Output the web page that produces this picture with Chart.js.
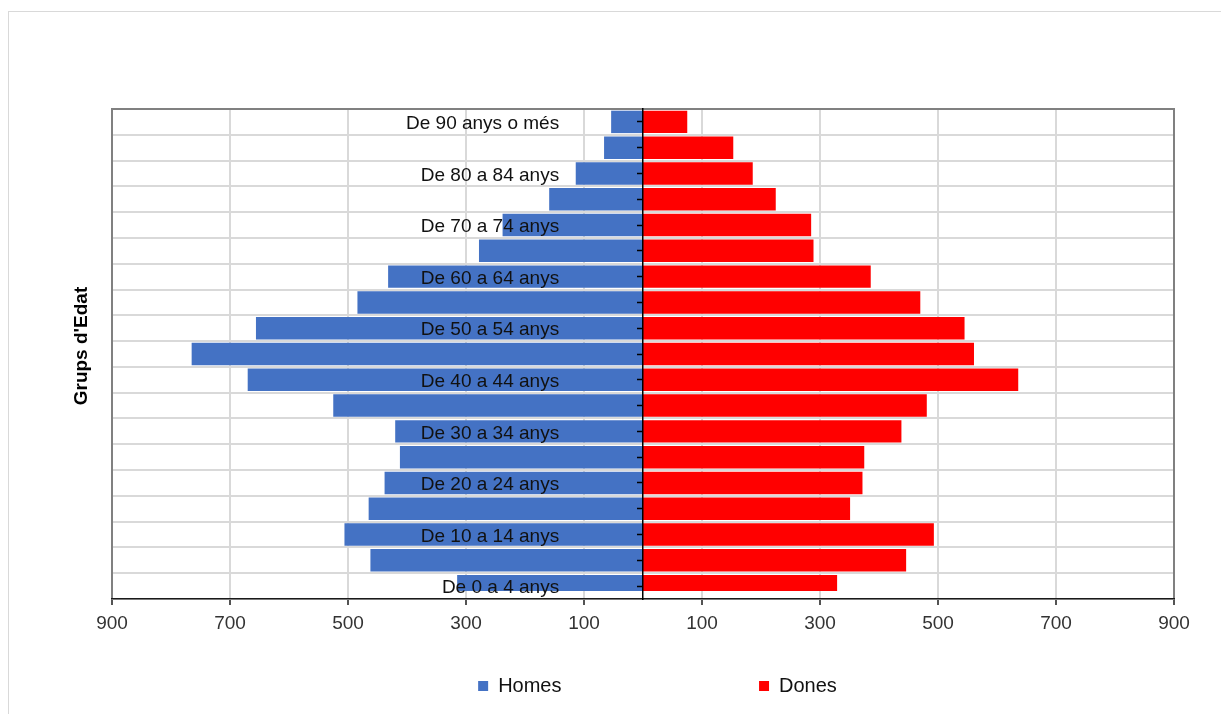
<!DOCTYPE html>
<html lang="ca">
<head>
<meta charset="utf-8">
<title>Piràmide de població</title>
<script src="https://cdn.jsdelivr.net/npm/chart.js@4.4.1/dist/chart.umd.min.js"></script>
<style>
  html, body { margin: 0; padding: 0; background: #fff; overflow: hidden; }
  #frame { position: absolute; left: 8px; top: 11px; width: 3000px; height: 3000px;
           border: 1px solid #d9d9d9; box-sizing: border-box; }
  #wrap { position: absolute; left: 0; top: 0; width: 1221px; height: 714px; }
</style>
</head>
<body>
<div id="frame"></div>
<div id="wrap"><canvas id="pyramid"></canvas></div>
<script>
// Age groups, oldest first (top of the pyramid)
const ageGroups = [
  'De 90 anys o més', 'De 85 a 89 anys', 'De 80 a 84 anys', 'De 75 a 79 anys',
  'De 70 a 74 anys', 'De 65 a 69 anys', 'De 60 a 64 anys', 'De 55 a 59 anys',
  'De 50 a 54 anys', 'De 45 a 49 anys', 'De 40 a 44 anys', 'De 35 a 39 anys',
  'De 30 a 34 anys', 'De 25 a 29 anys', 'De 20 a 24 anys', 'De 15 a 19 anys',
  'De 10 a 14 anys', 'De 5 a 9 anys', 'De 0 a 4 anys'
];

// Population per age group
const homes = [54, 66, 114, 159, 238, 278, 432, 484, 656, 765, 670, 525, 420, 412, 438, 465, 506, 462, 315];
const dones = [75, 153, 186, 225, 285, 289, 386, 470, 545, 561, 636, 481, 438, 375, 372, 351, 493, 446, 329];

// Horizontal axis ticks (men drawn to the left as negative values)
const xTickValues = [-900, -700, -500, -300, -100, 100, 300, 500, 700, 900];

const seriesNames = ['Homes', 'Dones'];
const seriesColors = ['#4472C4', '#FF0000'];

Chart.defaults.font.family = "'Liberation Sans', 'DejaVu Sans', Arial, sans-serif";
Chart.defaults.font.size = 19;

// Left, top and right edges of the plot frame; lifts the axis title slightly
const plotFrame = {
  id: 'plotFrame',
  afterLayout(chart) {
    const s = chart.scales.y;
    s.top -= 8;
    s.bottom -= 8;
  },
  beforeDatasetsDraw(chart) {
    const { ctx, chartArea: a } = chart;
    ctx.save();
    ctx.strokeStyle = '#808080';
    ctx.lineWidth = 2;
    ctx.beginPath();
    ctx.moveTo(a.left, a.bottom);
    ctx.lineTo(a.left, a.top);
    ctx.lineTo(a.right, a.top);
    ctx.lineTo(a.right, a.bottom);
    ctx.stroke();
    ctx.restore();
  }
};

const legendBlank = (text) => ({
  text, fillStyle: 'rgba(0,0,0,0)', strokeStyle: 'rgba(0,0,0,0)',
  lineWidth: 0, hidden: false, fontColor: 'rgba(0,0,0,0)'
});

new Chart(document.getElementById('pyramid'), {
  type: 'bar',
  data: {
    labels: ageGroups,
    datasets: [
      {
        label: seriesNames[0],
        data: homes.map(v => -v),
        backgroundColor: seriesColors[0],
        borderWidth: 0,
        categoryPercentage: 1,
        barPercentage: 0.87
      },
      {
        label: seriesNames[1],
        data: dones,
        backgroundColor: seriesColors[1],
        borderWidth: 0,
        categoryPercentage: 1,
        barPercentage: 0.87
      }
    ]
  },
  options: {
    indexAxis: 'y',
    responsive: true,
    maintainAspectRatio: false,
    animation: false,
    layout: { padding: { left: 65, right: 47, top: 109, bottom: 8 } },
    plugins: {
      tooltip: { enabled: false },
      legend: {
        position: 'bottom',
        onClick: () => {},
        labels: {
          boxWidth: 10,
          boxHeight: 10,
          padding: 36,
          color: '#111',
          font: { size: 20 },
          generateLabels(chart) {
            const ds = chart.data.datasets;
            const item = (i) => ({
              text: ds[i].label,
              fillStyle: ds[i].backgroundColor,
              strokeStyle: ds[i].backgroundColor,
              lineWidth: 0,
              fontColor: '#111',
              hidden: !chart.isDatasetVisible(i),
              datasetIndex: i
            });
            return [
              legendBlank('\u2003'),
              item(0),
              legendBlank('\u2003\u2003\u2003\u2003\u2003\u00a0'),
              item(1)
            ];
          }
        }
      }
    },
    scales: {
      x: {
        type: 'linear',
        min: -900,
        max: 900,
        stacked: true,
        afterFit: (scale) => { scale.height = 41; },
        afterBuildTicks: (scale) => { scale.ticks = xTickValues.map(v => ({ value: v })); },
        ticks: {
          autoSkip: false,
          maxRotation: 0,
          padding: 7,
          color: '#333',
          callback: (v) => String(Math.abs(v))
        },
        grid: { color: '#d9d9d9', lineWidth: 2, tickColor: '#1a1a1a', tickLength: 6, tickWidth: 1.5 },
        border: { color: '#1a1a1a', width: 1.5, z: 1 }
      },
      y: {
        type: 'category',
        stacked: true,
        offset: true,
        position: 'left',
        afterFit: (scale) => {
          scale.width = 47;
          scale.paddingTop = 0;
          scale.paddingBottom = 0;
        },
        ticks: {
          autoSkip: false,
          mirror: true,
          crossAlign: 'far',
          padding: 294,
          labelOffset: 2,
          z: 1,
          color: '#111',
          callback: function (v, i) { return i % 2 === 0 ? this.getLabelForValue(v) : ''; }
        },
        grid: { offset: true, color: '#d9d9d9', lineWidth: 2, drawTicks: false },
        border: { display: false },
        title: {
          display: true,
          text: "Grups d'Edat",
          color: '#000',
          font: { size: 19, weight: 'bold' },
          padding: { top: 5, bottom: 0 }
        }
      },
      yCenter: {
        type: 'category',
        offset: true,
        position: { x: 0 },
        ticks: { display: false },
        grid: { offset: false, drawOnChartArea: false, drawTicks: true, tickLength: 5, tickColor: '#000', tickWidth: 1.5, z: 1 },
        border: { color: '#000', width: 1.5, z: 1 }
      }
    }
  },
  plugins: [plotFrame]
});
</script>
</body>
</html>
